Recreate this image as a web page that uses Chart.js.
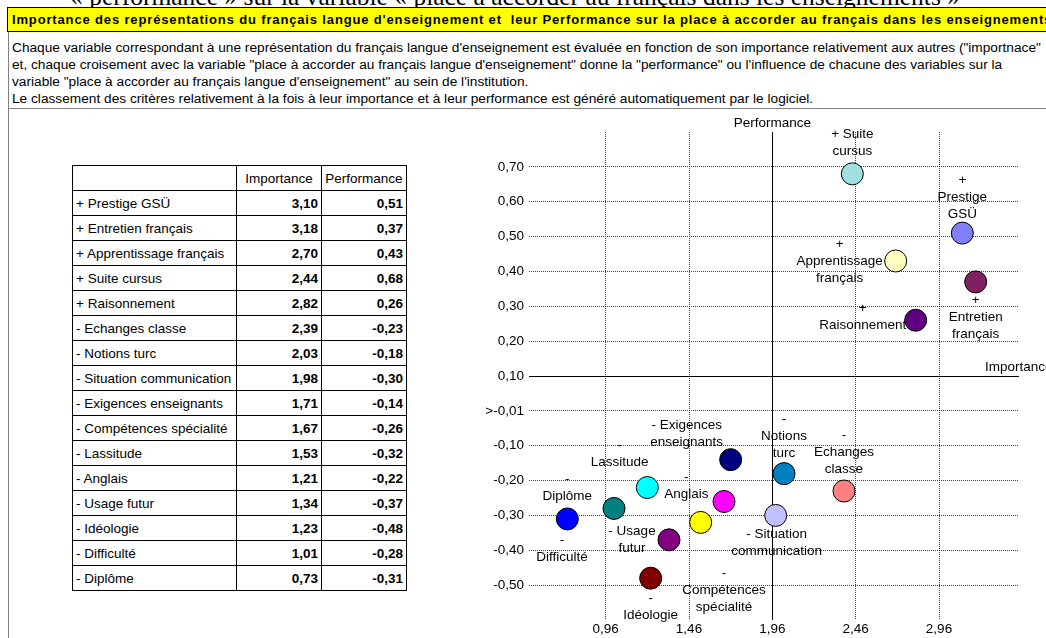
<!DOCTYPE html>
<html>
<head>
<meta charset="utf-8">
<script src="https://cdn.jsdelivr.net/npm/chart.js@4.4.0/dist/chart.umd.min.js"></script>
<style>
    body { margin: 0; width: 1046px; height: 638px; overflow: hidden; background: #fff; font-family: "Liberation Sans", Arial, sans-serif; position: relative; }
    .abs { position: absolute; white-space: nowrap; }
    #topTitle { left: 70px; top: -16px; font-family: "Liberation Serif", "Times New Roman", serif; font-size: 25.5px; line-height: 25px; }
    #banner { left: 7px; top: 7px; width: 1060px; height: 23px; background: #ffff00; border: 1px solid #000; font-weight: bold; font-size: 13px; letter-spacing: 0.85px; line-height: 23px; padding-left: 4px; box-sizing: content-box; }
    #notes { left: 8px; top: 32px; width: 1060px; height: 76px; border-left: 1px solid #808080; border-bottom: 1px solid #808080; }
    #notes div { font-size: 13.7px; line-height: 17px; padding-left: 3px; white-space: nowrap; }
    #lowerBox { left: 8px; top: 109px; width: 1060px; height: 540px; border-left: 1px solid #808080; }
    #scoreTable { left: 72px; top: 165px; width: 334px; table-layout: fixed; border-collapse: collapse; font-size: 13.5px; }
    #scoreTable td { border: 1px solid #000; height: 24px; padding: 0 2px 0 3px; overflow: hidden; }
    #scoreTable td.num { font-weight: bold; text-align: right; padding-right: 3px; }
    #scoreTable td.head { text-align: center; padding: 0; }
    #chartBox { left: 480px; top: 112px; width: 566px; height: 526px; }
</style>
</head>
<body>
<div class="abs" id="topTitle">« performance » sur la variable « place à accorder au français dans les enseignements »</div>
<div class="abs" id="banner">Importance des représentations du français langue d'enseignement et&nbsp; leur Performance sur la place à accorder au français dans les enseignements</div>
<div class="abs" id="notes">
    <div style="margin-top:7px">Chaque variable correspondant à une représentation du français langue d'enseignement est évaluée en fonction de son importance relativement aux autres ("importnace"</div>
    <div>et, chaque croisement avec la variable "place à accorder au français langue d'enseignement" donne la "performance" ou l'influence de chacune des variables sur la</div>
    <div>variable "place à accorder au français langue d'enseignement" au sein de l'institution.</div>
    <div>Le classement des critères relativement à la fois à leur importance et à leur performance est généré automatiquement par le logiciel.</div>
</div>
<div class="abs" id="lowerBox"></div>
<table class="abs" id="scoreTable"></table>
<div class="abs" id="chartBox"><canvas id="chartContainer"></canvas></div>

<script>
const variables = [
    "+ Prestige GSÜ", "+ Entretien français", "+ Apprentissage français", "+ Suite cursus",
    "+ Raisonnement", "- Echanges classe", "- Notions turc", "- Situation communication",
    "- Exigences enseignants", "- Compétences spécialité", "- Lassitude", "- Anglais",
    "- Usage futur", "- Idéologie", "- Difficulté", "- Diplôme",
];
const importance = [3.10, 3.18, 2.70, 2.44, 2.82, 2.39, 2.03, 1.98, 1.71, 1.67, 1.53, 1.21, 1.34, 1.23, 1.01, 0.73];
const performance = [0.51, 0.37, 0.43, 0.68, 0.26, -0.23, -0.18, -0.30, -0.14, -0.26, -0.32, -0.22, -0.37, -0.48, -0.28, -0.31];

// how the labels are wrapped in the chart
const pointLabels = [
    ["+", "Prestige", "GSÜ"], ["+", "Entretien", "français"], ["+", "Apprentissage", "français"], ["+ Suite", "cursus"],
    ["+", "Raisonnement"], ["-", "Echanges", "classe"], ["-", "Notions", "turc"], ["- Situation", "communication"],
    ["- Exigences", "enseignants"], ["-", "Compétences", "spécialité"], ["-", "Lassitude"], ["-", "Anglais"],
    ["- Usage", "futur"], ["-", "Idéologie"], ["-", "Difficulté"], ["-", "Diplôme"],
];

const xTickValues = [0.96, 1.46, 1.96, 2.46, 2.96];
const xTickLabels = ["0,96", "1,46", "1,96", "2,46", "2,96"];
const yTickValues = [0.7, 0.6, 0.5, 0.4, 0.3, 0.2, 0.1, 0, -0.1, -0.2, -0.3, -0.4, -0.5];
const yTickLabels = ["0,70", "0,60", "0,50", "0,40", "0,30", "0,20", "0,10", ">-0,01", "-0,10", "-0,20", "-0,30", "-0,40", "-0,50"];

// where the axes cross
const crossX = 1.96;
const crossY = 0.1;

const pointColors = [
    "#8080ff", "#802060", "#ffffc0", "#a0e0e0", "#600080", "#ff8080", "#0080c0", "#c0c0ff",
    "#000080", "#ff00ff", "#ffff00", "#00ffff", "#800080", "#800000", "#008080", "#0000ff",
];
// label block offset from its point, px
const labelOffsets = [
    [0, -36], [0, 35], [-56, 0], [0, -31], [-53, -3], [0, -39], [0, -37], [1, 27],
    [-44, -26], [0, 89], [-81, -69], [39, -2], [-37, 0], [0, 29], [-52, 40], [0, -31],
];

const chartFont = '"Liberation Sans", Arial, sans-serif';
const fmt = (v) => v.toFixed(2).replace(".", ",");

// table
const table = document.getElementById("scoreTable");
let html = '<colgroup><col style="width:164px"><col style="width:85px"><col style="width:85px"></colgroup>';
html += '<tr><td></td><td class="head">Importance</td><td class="head">Performance</td></tr>';
variables.forEach((name, i) => {
    html += "<tr><td>" + name + '</td><td class="num">' + fmt(importance[i]) + '</td><td class="num">' + fmt(performance[i]) + "</td></tr>";
});
table.innerHTML = html;

const crossAxes = {
    id: "crossAxes",
    beforeDatasetsDraw(chart) {
        const { ctx, chartArea, scales } = chart;
        const px = scales.x.getPixelForValue(crossX);
        const py = scales.y.getPixelForValue(crossY);
        ctx.save();
        ctx.strokeStyle = "#000";
        ctx.lineWidth = 1;
        ctx.beginPath();
        ctx.moveTo(Math.round(px) + 0.5, chartArea.top);
        ctx.lineTo(Math.round(px) + 0.5, chartArea.bottom);
        ctx.moveTo(chartArea.left, Math.round(py) + 0.5);
        ctx.lineTo(chartArea.right, Math.round(py) + 0.5);
        ctx.stroke();
        ctx.fillStyle = "#000";
        ctx.font = "13.5px " + chartFont;
        ctx.textBaseline = "middle";
        ctx.textAlign = "center";
        ctx.fillText("Performance", px, chartArea.top - 9);
        ctx.textAlign = "left";
        ctx.fillText("Importance", chartArea.right - 34, py - 9);
        ctx.restore();
    },
};

const pointLabelPlugin = {
    id: "pointLabelPlugin",
    afterDatasetsDraw(chart) {
        const { ctx } = chart;
        const meta = chart.getDatasetMeta(0);
        ctx.save();
        ctx.fillStyle = "#000";
        ctx.font = "13.5px " + chartFont;
        ctx.textAlign = "center";
        ctx.textBaseline = "middle";
        const lh = 17;
        meta.data.forEach((pt, i) => {
            const lines = pointLabels[i];
            const cx = pt.x + labelOffsets[i][0];
            const cy = pt.y + labelOffsets[i][1];
            lines.forEach((line, j) => {
                ctx.fillText(line, cx, cy + (j - (lines.length - 1) / 2) * lh);
            });
        });
        ctx.restore();
    },
};

const ctx = document.getElementById("chartContainer");
new Chart(ctx, {
    type: "scatter",
    data: {
        datasets: [{
            data: importance.map((v, i) => ({ x: v, y: performance[i] })),
            backgroundColor: pointColors,
            borderColor: "#000",
            borderWidth: 1,
            pointRadius: 11,
            pointHoverRadius: 11,
        }],
    },
    options: {
        responsive: true,
        maintainAspectRatio: false,
        animation: false,
        events: [],
        layout: { padding: { top: 20, right: 27, left: 0, bottom: 0 } },
        plugins: { legend: { display: false }, tooltip: { enabled: false } },
        scales: {
            x: {
                type: "linear",
                min: 0.5,
                max: 3.44,
                afterBuildTicks: (scale) => { scale.ticks = xTickValues.map((v) => ({ value: v })); },
                afterFit: (scale) => { scale.height = 18; },
                grid: { color: "#444", drawTicks: false },
                border: { display: false, dash: [1, 1] },
                ticks: {
                    autoSkip: false, maxRotation: 0, padding: 1, color: "#000",
                    font: { family: chartFont, size: 13.5 },
                    callback: (v, i) => xTickLabels[i],
                },
            },
            y: {
                type: "linear",
                min: -0.6,
                max: 0.8,
                afterBuildTicks: (scale) => { scale.ticks = yTickValues.map((v) => ({ value: v })); },
                afterFit: (scale) => { scale.width = 49; },
                grid: { color: "#444", drawTicks: false },
                border: { display: false, dash: [1, 1] },
                ticks: {
                    autoSkip: false, padding: 5, color: "#000",
                    font: { family: chartFont, size: 13.5 },
                    callback: (v, i) => yTickLabels[i],
                },
            },
        },
    },
    plugins: [crossAxes, pointLabelPlugin],
});
</script>
</body>
</html>
